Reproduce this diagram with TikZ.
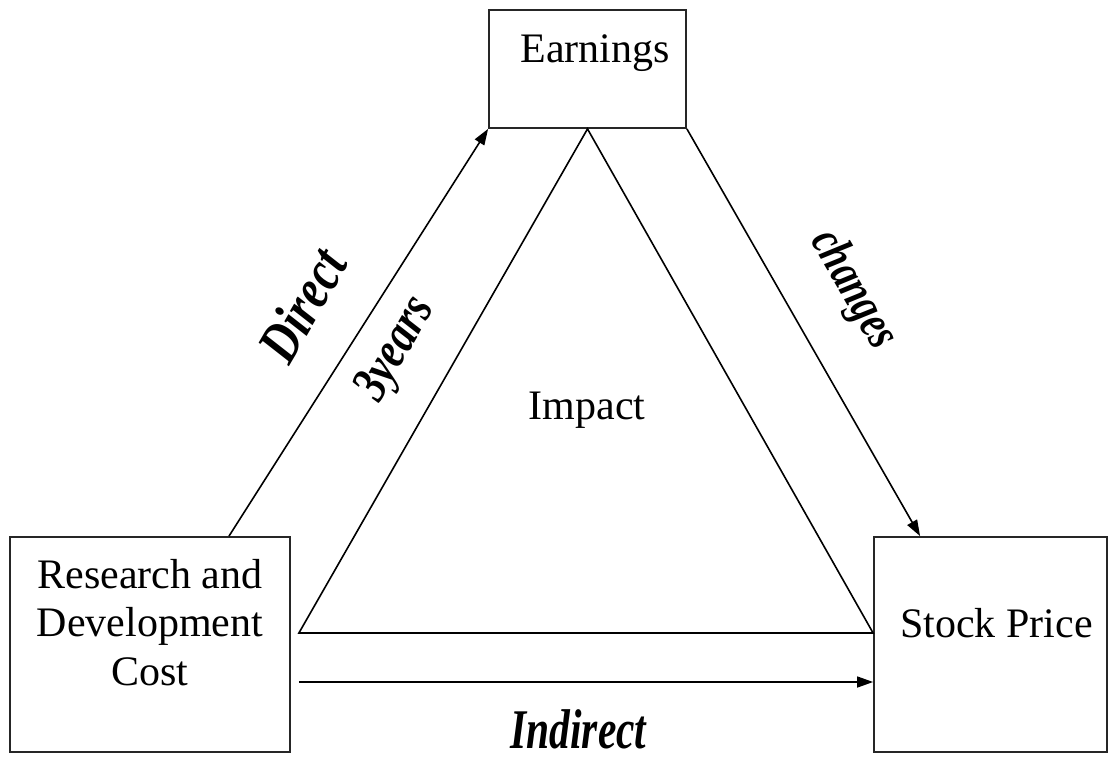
\documentclass[tikz,border=0pt]{standalone}
\usepackage{fontspec}
\setmainfont{Liberation Serif}
\usetikzlibrary{arrows.meta,calc}
\newcommand\lbltext[3]{\scalebox{#1}[1]{\fontsize{#2}{#2}\selectfont\bfseries\itshape #3}}
\begin{document}
\begin{tikzpicture}[x=1pt,y=-1pt,
  box/.style={draw=black!85,line width=1.8pt,rectangle,inner sep=0pt},
  txt/.style={inner sep=0pt,font=\fontsize{42}{48.5}\selectfont},
  conn/.style={line width=1.6pt},
  arr/.style={conn,-{Triangle[length=16pt,width=11pt]}},
  lbl/.style={inner sep=0pt}]
\useasboundingbox (0,0) rectangle (1109,758);
% boxes
\node[box,minimum width=197pt,minimum height=118pt] (earn) at (587.5,69) {};
\node[box,minimum width=280pt,minimum height=215pt] (rd) at (150,644.5) {};
\node[box,minimum width=233pt,minimum height=215pt] (sp) at (990.5,644.5) {};
% texts
\node[txt,anchor=base] (earnT) at (595,62) {Earnings};
\node[txt,anchor=base] (rdT) at (150,588) {\parbox[t]{270pt}{\centering Research and\\Development\\Cost}};
\node[txt,anchor=base] (spT) at (996.5,637) {Stock Price};
\node[txt,anchor=base] (imp) at (587,419) {Impact};
% triangle
\coordinate (tl) at ($(rd.east)+(8,-11.5)$);
\coordinate (tr) at ($(sp.west)+(0,-11.5)$);
\draw[conn] (earn.south) -- (tl) -- (tr) -- cycle;
% arrows
\coordinate (dstart) at ($(rd.north)+(79,0)$);
\draw[arr] (dstart) -- (earn.south west);
\coordinate (cend) at ($(sp.north west)+(47,0)$);
\draw[arr] (earn.south east) -- (cend);
\coordinate (istart) at ($(rd.east)+(8,37.5)$);
\coordinate (iend) at ($(sp.west)+(0,37.5)$);
\draw[arr] (istart) -- (iend);
% labels
\node[lbl,rotate=60] (ldirect) at (302,305) {\lbltext{0.8}{58}{Direct}};
\node[lbl,rotate=60] (lyears) at (397,350) {\lbltext{0.8}{52}{3years}};
\node[lbl,rotate=-60] (lchanges) at (853,290) {\lbltext{0.76}{50}{changes}};
\node[lbl,anchor=base] (lindirect) at (578.5,748) {\lbltext{0.74}{56}{Indirect}};
\end{tikzpicture}
\end{document}
